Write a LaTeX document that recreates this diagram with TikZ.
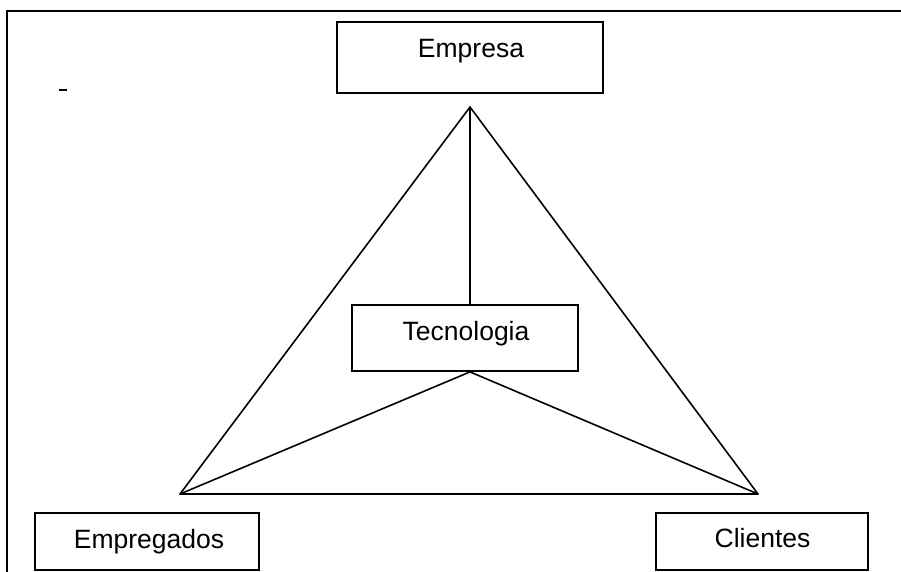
\documentclass[tikz,border=0pt]{standalone}
\usepackage{fontspec}
\setmainfont{Liberation Sans}
\begin{document}
\begin{tikzpicture}[x=1pt,y=-1pt,
  box/.style={draw,line width=1.8pt,rectangle,inner sep=0pt},
  lbl/.style={anchor=base,inner sep=0pt,font=\fontsize{26.5}{30}\selectfont},
  link/.style={line width=1.6pt,line cap=round,line join=round},
  frame/.style={line width=2.8pt}]
\useasboundingbox (0,0) rectangle (901,571);
% outer frame (left and top edges)
\draw[frame] (7,575) -- (7,11) -- (905,11);
% stray mark near the top left
\draw[line width=2pt] (59,89.5) -- (67,89.5);

% boxes
\node[box,minimum width=266pt,minimum height=71pt] (empresa) at (470,57.5) {};
\node[box,minimum width=226pt,minimum height=66pt] (tec) at (465,338) {};
\node[box,minimum width=224pt,minimum height=57pt] (empregados) at (147,541.5) {};
\node[box,minimum width=212pt,minimum height=57pt] (clientes) at (762,541.5) {};

% labels
\node[lbl] (empresa-t) at (471,57) {Empresa};
\node[lbl] (tec-t) at (466,340) {Tecnologia};
\node[lbl] (empregados-t) at (149,548) {Empregados};
\node[lbl] (clientes-t) at (762.5,547) {Clientes};

% triangle corners
\coordinate (apex) at (470,107);
\coordinate (bl) at (180,494);
\coordinate (br) at (758,494);
\coordinate (tectop) at (tec.north -| apex);
\coordinate (tecbot) at (tec.south -| apex);

% connectors
\draw[link] (apex) -- (bl) -- (br) -- cycle;
\draw[link] (apex) -- (tectop);
\draw[link] (tecbot) -- (bl);
\draw[link] (tecbot) -- (br);
\end{tikzpicture}
\end{document}
